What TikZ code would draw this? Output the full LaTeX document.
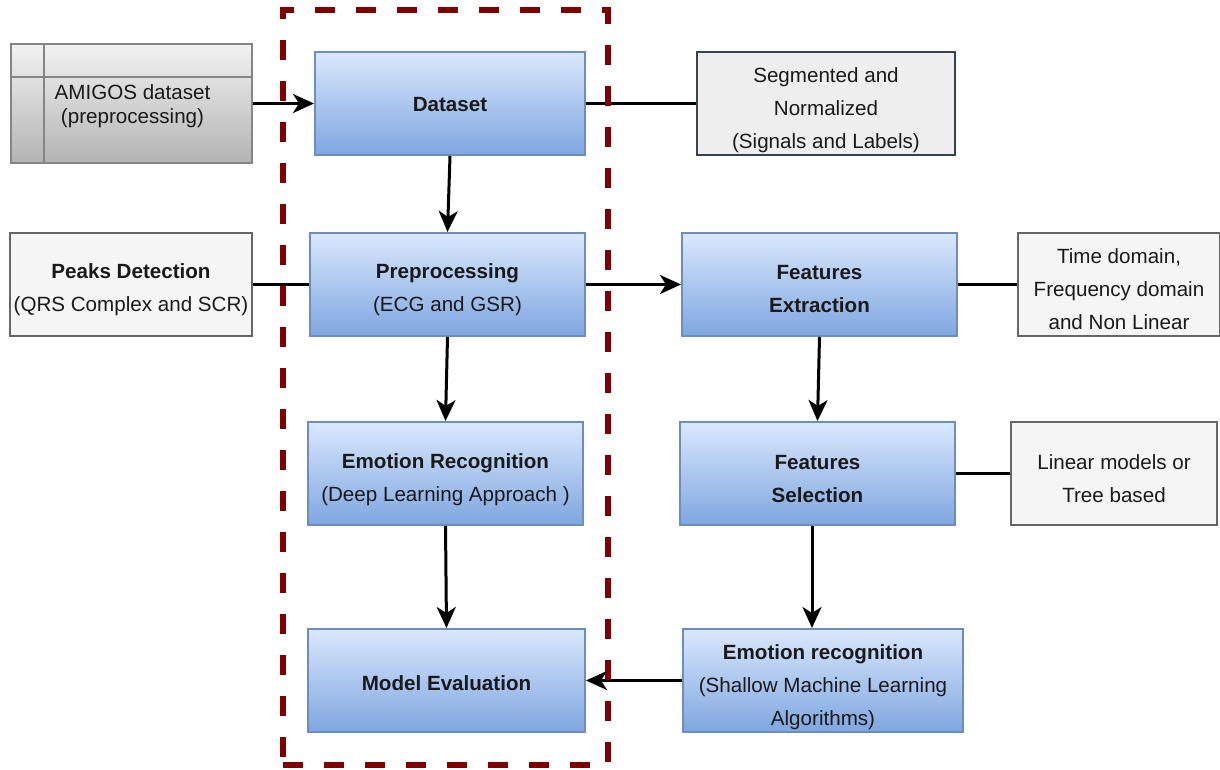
\documentclass[tikz,border=0pt]{standalone}
\usepackage{fontspec}
\setmainfont{Liberation Sans}
\usetikzlibrary{arrows.meta}
\definecolor{bluetop}{HTML}{DAE8FC}
\definecolor{bluebot}{HTML}{7EA6E0}
\definecolor{blueedge}{HTML}{6C8EBF}
\definecolor{grayfill}{HTML}{F5F5F5}
\definecolor{grayedge}{HTML}{666666}
\definecolor{darkred}{HTML}{7F0000}
\definecolor{slate}{HTML}{314354}
\definecolor{segfill}{HTML}{EEEEEE}
\definecolor{amtop}{HTML}{F2F2F2}
\definecolor{ambot}{HTML}{B3B3B3}
\definecolor{txt}{HTML}{1A1A1A}
\begin{document}
\begin{tikzpicture}[x=1pt,y=-1pt,
 every node/.style={font=\fontsize{20.6}{33}\selectfont, align=center, inner sep=0pt, text=txt},
 bluebox/.style={draw=blueedge, line width=2pt, top color=bluetop, bottom color=bluebot},
 graybox/.style={draw=grayedge, line width=2pt, fill=grayfill},
 slatebox/.style={draw=slate, line width=2pt, fill=segfill},
 conn/.style={line width=3pt, black},
 arr/.style={conn, -{Stealth[length=21pt,width=19pt,inset=6pt]}},
]
\useasboundingbox (0,0) rectangle (1220,770);

% AMIGOS table-like box
\node[draw=grayedge!80, line width=2pt, top color=amtop, bottom color=ambot,
      minimum width=241, minimum height=119] (amigos) at (131.5,103.5) {};
\draw[grayedge!80, line width=2pt] ([xshift=34pt]amigos.north west) -- ([xshift=34pt]amigos.south west);
\draw[grayedge!80, line width=2pt] ([yshift=-34pt]amigos.north west) -- ([yshift=-34pt]amigos.north east);
\node[font=\fontsize{20.6}{24}\selectfont] (amigostext) at (132.5,106) {AMIGOS dataset\\(preprocessing)};

% main column
\node[bluebox, minimum width=270, minimum height=103] (dataset) at (450,103.5) {};
\node[bluebox, minimum width=275, minimum height=103] (prep) at (447.5,284.5) {};
\node[bluebox, minimum width=275, minimum height=103] (emo) at (445.5,473.5) {};
\node[bluebox, minimum width=277, minimum height=103] (model) at (446.5,680.5) {};

% right column
\node[bluebox, minimum width=275, minimum height=103] (fext) at (819.5,284.5) {};
\node[bluebox, minimum width=275, minimum height=103] (fsel) at (817.5,473.5) {};
\node[bluebox, minimum width=280, minimum height=103] (shallow) at (823,680.5) {};

% side notes
\node[slatebox, minimum width=258, minimum height=103] (seg) at (826,103.5) {};
\node[graybox, minimum width=242, minimum height=103] (peaks) at (131,284.5) {};
\node[graybox, minimum width=202, minimum height=103] (time) at (1119,284.5) {};
\node[graybox, minimum width=206, minimum height=103] (linear) at (1114,473.5) {};

% texts
\node (datasetT) at ([yshift=-1.5pt]dataset.center) {\textbf{Dataset}};
\node (prepT) at ([yshift=-5pt]prep.center) {\textbf{Preprocessing}\\(ECG and GSR)};
\node (emoT) at ([yshift=-6pt]emo.center) {\textbf{Emotion Recognition}\\(Deep Learning Approach )};
\node (modelT) at ([yshift=-3pt]model.center) {\textbf{Model Evaluation}};
\node (fextT) at ([yshift=-4.5pt]fext.center) {\textbf{Features}\\\textbf{Extraction}};
\node (fselT) at ([yshift=-6pt]fsel.center) {\textbf{Features}\\\textbf{Selection}};
\node (shallowT) at ([yshift=-6.5pt]shallow.center) {\textbf{Emotion recognition}\\(Shallow Machine Learning\\Algorithms)};
\node (segT) at ([yshift=-6.5pt]seg.center) {Segmented and\\Normalized\\(Signals and Labels)};
\node (peaksT) at ([yshift=-5pt]peaks.center) {\textbf{Peaks Detection}\\(QRS Complex and SCR)};
\node (timeT) at ([yshift=-5pt]time.center) {Time domain,\\Frequency domain\\and Non Linear};
\node (linearT) at ([yshift=-5.5pt]linear.center) {Linear models or\\Tree based};

% connectors
\draw[arr] (amigos.east) -- (dataset.west);
\draw[conn] (dataset.east) -- (seg.west);
\draw[arr] (dataset.south) -- (prep.north);
\draw[conn] (peaks.east) -- (prep.west);
\draw[arr] (prep.east) -- (fext.west);
\draw[conn] (fext.east) -- (time.west);
\draw[arr] (prep.south) -- (emo.north);
\draw[arr] (fext.south) -- (fsel.north);
\draw[conn] (fsel.east) -- (linear.west);
\draw[arr] (emo.south) -- (model.north);
\draw[arr] ([xshift=-5.5pt]fsel.south) -- ([xshift=-11pt]shallow.north);
\draw[arr] (shallow.west) -- (model.east);

% dashed group
\node[draw=darkred, line width=6pt, dash pattern=on 20pt off 21pt,
      minimum width=325, minimum height=755] (group) at (445.5,387.5) {};
\end{tikzpicture}
\end{document}
